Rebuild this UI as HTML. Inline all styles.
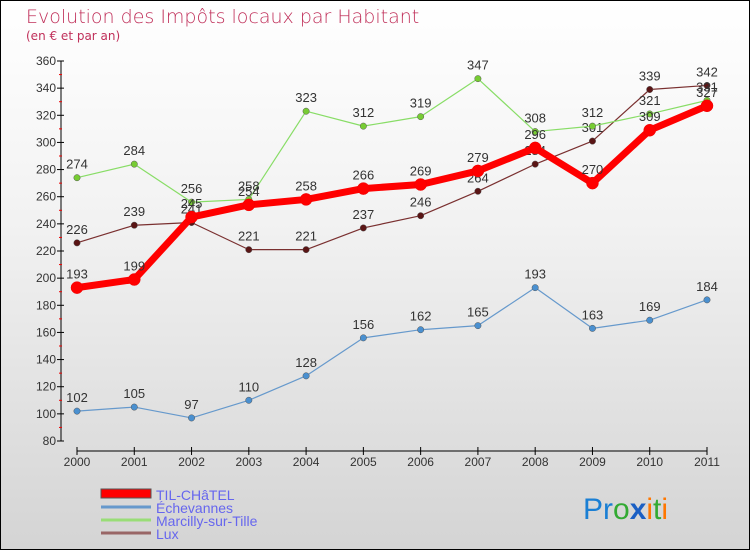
<!DOCTYPE html>
<html><head><meta charset="utf-8"><style>
body{margin:0}
#c{width:748px;height:548px;border:1px solid #000;background:linear-gradient(#fff 0%,#f2f2f2 40%,#d4d4d4 100%);position:relative;font-family:"DejaVu Sans","Liberation Sans",sans-serif;overflow:hidden}
</style></head><body>
<div id="c">
<svg id="s" width="748" height="548">
<text x="25" y="22" font-size="19" fill="#c0305a" font-family="DejaVu Sans" style="font-weight:200">Evolution des Impôts locaux par Habitant</text>
<text x="25" y="39" font-size="12" fill="#c0305a">(en € et par an)</text>
<g id="g"></g>
<g>
<rect x="100" y="488" width="50" height="9" fill="#f00" stroke="#555" stroke-width="1"/>
<text x="155" y="499" font-size="14" fill="#6666ee" font-family="Liberation Sans">TIL-CHâTEL</text>
<line x1="100" y1="506" x2="150" y2="506" stroke="#6699cc" stroke-width="3"/>
<text x="155" y="512" font-size="14" fill="#6666ee" font-family="Liberation Sans">Échevannes</text>
<line x1="100" y1="519" x2="150" y2="519" stroke="#99dd77" stroke-width="3"/>
<text x="155" y="525" font-size="14" fill="#6666ee" font-family="Liberation Sans">Marcilly-sur-Tille</text>
<line x1="100" y1="532" x2="150" y2="532" stroke="#996666" stroke-width="3"/>
<text x="155" y="538" font-size="14" fill="#6666ee" font-family="Liberation Sans">Lux</text>
</g>
<text x="582" y="518" font-size="30" font-family="Liberation Sans"><tspan fill="#1a7fd4">Pr</tspan><tspan fill="#33aa33">o</tspan><tspan fill="#1a5fc4" font-weight="bold">x</tspan><tspan fill="#ff7700">i</tspan><tspan fill="#33aa33">t</tspan><tspan fill="#ff7700">i</tspan></text>
</svg>
</div>
<script>
const years=["2000","2001","2002","2003","2004","2005","2006","2007","2008","2009","2010","2011"];
const yTicks=[80,100,120,140,160,180,200,220,240,260,280,300,320,340,360];
const tilChatel=[193,199,245,254,258,266,269,279,296,270,309,327];
const echevannes=[102,105,97,110,128,156,162,165,193,163,169,184];
const marcilly=[274,284,256,258,323,312,319,347,308,312,321,331];
const lux=[226,239,241,221,221,237,246,264,284,301,339,342];
const NS="http://www.w3.org/2000/svg";
const g=document.getElementById('g');
const X=i=>76+i*(706-76)/(years.length-1);
const Y=v=>440-(v-80)*(380/280);
function el(t,a,p){const e=document.createElementNS(NS,t);for(const k in a)e.setAttribute(k,a[k]);(p||g).appendChild(e);return e;}
let e=el('line',{x1:60,y1:60,x2:60,y2:440,stroke:'#000'});


yTicks.forEach(v=>{
 let t=el('line',{x1:56,y1:Y(v),x2:63,y2:Y(v),stroke:'#000'});
 
 
 let l=el('text',{x:55,y:Y(v)+4,'font-size':12,fill:'#333','text-anchor':'end','font-family':'Liberation Sans'});l.textContent=v;
 
 
 if(v<360){let m=el('line',{x1:58,y1:Y(v+10),x2:61,y2:Y(v+10),stroke:'#e00'});
 
 }
});
e=el('line',{x1:76,y1:450,x2:706,y2:450,stroke:'#000'});


years.forEach((y,i)=>{
 let t=el('line',{x1:X(i),y1:446,x2:X(i),y2:454,stroke:'#000'});
 
 
 let l=el('text',{x:X(i),y:465,'font-size':12,fill:'#333','text-anchor':'middle','font-family':'Liberation Sans'});l.textContent=y;
 
 
});
function series(d,name,col,w,r,dot){
 const s=el('g',{});
 
 
 let p=el('polyline',{points:d.map((v,i)=>X(i)+','+Y(v)).join(' '),fill:'none',stroke:col,'stroke-width':w,'stroke-linejoin':'round'},s);
 
 
 d.forEach((v,i)=>{
  let c=el('circle',{cx:X(i),cy:Y(v),r:r,fill:dot,stroke:col==='#f00'?'#e00':'#555','stroke-width':0.5},s);
  
  
  let t=el('text',{x:X(i),y:Y(v)-9,'font-size':13,fill:'#333','text-anchor':'middle','font-family':'Liberation Sans'},s);t.textContent=v;
  
  
 });
}
series(echevannes,'echevannes','#6699cc',1.2,3.2,'#4a90d0');
series(lux,'lux','#7a3030',1.2,3.2,'#5a1515');
series(marcilly,'marcilly','#88dd66',1.2,3.2,'#77cc33');
series(tilChatel,'til-chatel','#f00',7,6,'#f00');
</script>
</body></html>
